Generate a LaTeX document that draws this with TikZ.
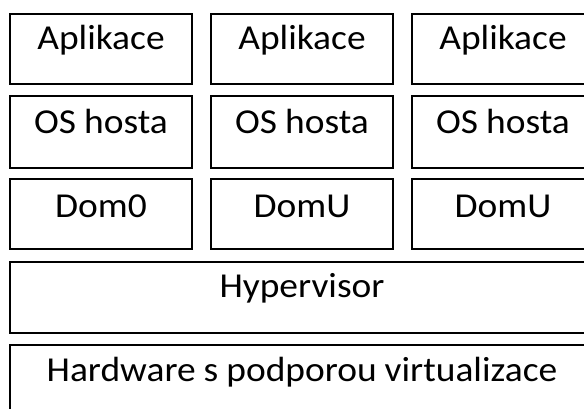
\documentclass[tikz,border=0pt]{standalone}
\usepackage{graphicx}
\usepackage{fontspec}
\setmainfont{Carlito}
\newcommand{\stretchtxt}[1]{\scalebox{1.07}[1]{\spaceskip=7.5pt\relax #1}}
\begin{document}
\begin{tikzpicture}[x=1pt,y=1pt,
  layer/.style={draw=black, line width=2pt, anchor=north west, inner xsep=0pt, inner ysep=0pt,
    minimum height=70pt, text height=36pt, text depth=34pt,
    font=\fontsize{35}{42}\selectfont},
  colbox/.style={layer, minimum width=182pt, text width=182pt, align=center},
  widebox/.style={layer, minimum width=584pt, text width=584pt, align=center}]
\path[use as bounding box] (0,0) rectangle (584,408);
\clip (0,0) rectangle (584,408);
% row 1
\node[colbox] (app1) at (9,395) {\stretchtxt{Aplikace}};
\node[colbox] (app2) at (210,395) {\stretchtxt{Aplikace}};
\node[colbox] (app3) at (411,395) {\stretchtxt{Aplikace}};
% row 2
\node[colbox, minimum height=71pt, text height=37pt, text depth=34pt] (os1) at (9,312.5) {\stretchtxt{OS hosta}};
\node[colbox, minimum height=71pt, text height=37pt, text depth=34pt] (os2) at (210,312.5) {\stretchtxt{OS hosta}};
\node[colbox, minimum height=71pt, text height=37pt, text depth=34pt] (os3) at (411,312.5) {\stretchtxt{OS hosta}};
% row 3
\node[colbox, text height=38pt, text depth=32pt] (dom0) at (9,230) {\stretchtxt{Dom0}};
\node[colbox, text height=38pt, text depth=32pt] (domu1) at (210,230) {\stretchtxt{DomU}};
\node[colbox, text height=38pt, text depth=32pt] (domu2) at (411,230) {\stretchtxt{DomU}};
% hypervisor
\node[widebox, minimum height=71pt, text height=35pt, text depth=36pt] (hyp) at (9,147) {\stretchtxt{Hypervisor}};
% hardware
\node[widebox, text height=37pt, text depth=33pt] (hw) at (9,64.5) {\stretchtxt{Hardware s podporou virtualizace}};
\end{tikzpicture}
\end{document}
